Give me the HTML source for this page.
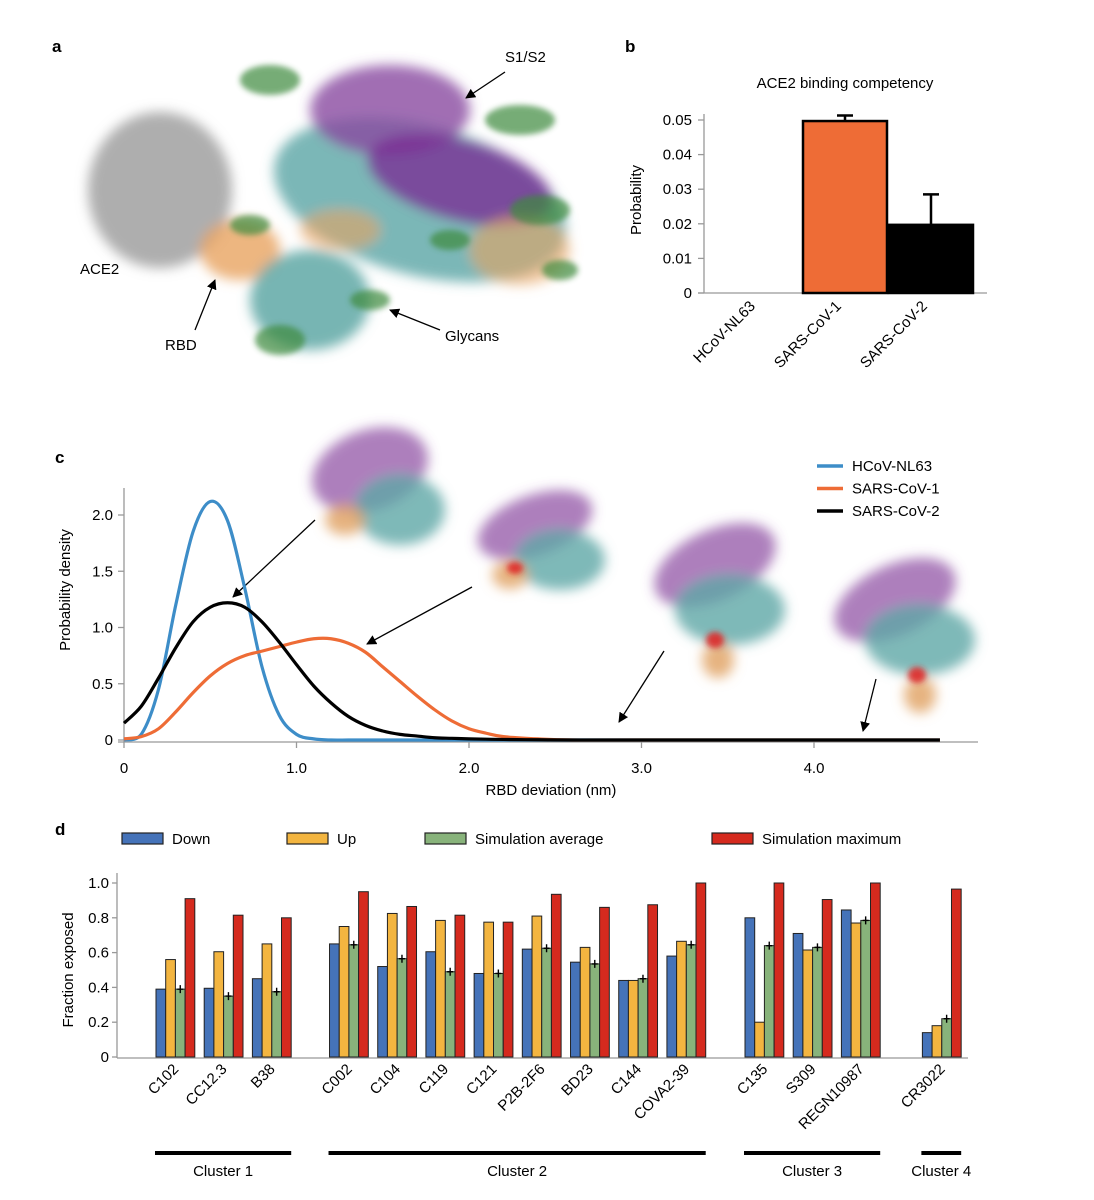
<!DOCTYPE html>
<html><head><meta charset="utf-8"><style>
body{margin:0;background:#fff;}
svg{display:block;font-family:"Liberation Sans",sans-serif;}
</style></head><body>
<svg id="fig" width="1094" height="1200" viewBox="0 0 1094 1200">
<defs>
<filter id="blur" x="-20%" y="-20%" width="140%" height="140%"><feGaussianBlur stdDeviation="6"/></filter>
<filter id="blur2" x="-20%" y="-20%" width="140%" height="140%"><feGaussianBlur stdDeviation="3"/></filter>
<marker id="ah" markerWidth="10" markerHeight="10" refX="9" refY="5" orient="auto" markerUnits="userSpaceOnUse"><path d="M0,0 L10,5 L0,10 z" fill="#000"/></marker>
</defs>

<!-- Panel a -->
<g>
<text x="52" y="52" font-size="17" font-weight="bold">a</text>
<g filter="url(#blur)">
<ellipse cx="160" cy="190" rx="72" ry="78" fill="#9a9a9a" opacity="0.8"/>
<ellipse cx="240" cy="250" rx="40" ry="30" fill="#e8a460" opacity="0.8"/>
<ellipse cx="310" cy="300" rx="60" ry="50" fill="#5fa8a6" opacity="0.85"/>
<ellipse cx="420" cy="200" rx="150" ry="75" fill="#4f9f9f" opacity="0.75" transform="rotate(15 420 200)"/>
<ellipse cx="390" cy="110" rx="80" ry="45" fill="#8a4aa0" opacity="0.8"/>
<ellipse cx="460" cy="180" rx="95" ry="40" fill="#7a2f95" opacity="0.8" transform="rotate(15 460 180)"/>
<ellipse cx="520" cy="250" rx="50" ry="35" fill="#e8a460" opacity="0.6"/>
<ellipse cx="340" cy="230" rx="40" ry="20" fill="#e8a460" opacity="0.6"/>
</g>
<g filter="url(#blur2)" fill="#3d8a3d" opacity="0.7">
<ellipse cx="270" cy="80" rx="30" ry="15"/><ellipse cx="520" cy="120" rx="35" ry="15"/>
<ellipse cx="540" cy="210" rx="30" ry="15"/><ellipse cx="280" cy="340" rx="25" ry="15"/>
<ellipse cx="370" cy="300" rx="20" ry="10"/><ellipse cx="250" cy="225" rx="20" ry="10"/>
<ellipse cx="450" cy="240" rx="20" ry="10"/><ellipse cx="560" cy="270" rx="18" ry="10"/>
</g>
<text x="505" y="62" font-size="15">S1/S2</text>
<line x1="505" y1="72" x2="466" y2="98" stroke="#000" stroke-width="1.3" marker-end="url(#ah)"/>
<text x="80" y="274" font-size="15">ACE2</text>
<text x="165" y="350" font-size="15">RBD</text>
<line x1="195" y1="330" x2="215" y2="280" stroke="#000" stroke-width="1.3" marker-end="url(#ah)"/>
<text x="445" y="341" font-size="15">Glycans</text>
<line x1="440" y1="330" x2="390" y2="310" stroke="#000" stroke-width="1.3" marker-end="url(#ah)"/>
</g>

<!-- Panel b -->
<g id="pb">
<text x="625" y="52" font-size="17" font-weight="bold">b</text>
<text x="845" y="88" font-size="15" text-anchor="middle">ACE2 binding competency</text>
<text transform="translate(641 200) rotate(-90)" font-size="15" text-anchor="middle">Probability</text>
</g>

<!-- Panel c -->
<g id="pc">
<text x="55" y="463" font-size="17" font-weight="bold">c</text>
<g>
<g filter="url(#blur)">
<ellipse cx="370" cy="470" rx="60" ry="40" fill="#8a4aa0" opacity="0.7" transform="rotate(-20 370 470)"/>
<ellipse cx="400" cy="510" rx="45" ry="35" fill="#5fa8a6" opacity="0.8"/>
<ellipse cx="345" cy="520" rx="20" ry="15" fill="#e0a060" opacity="0.8"/>
<ellipse cx="535" cy="525" rx="60" ry="30" fill="#8a4aa0" opacity="0.7" transform="rotate(-20 535 525)"/>
<ellipse cx="560" cy="560" rx="45" ry="30" fill="#5fa8a6" opacity="0.8"/>
<ellipse cx="510" cy="575" rx="18" ry="14" fill="#e0a060" opacity="0.8"/>
<ellipse cx="715" cy="565" rx="65" ry="35" fill="#8a4aa0" opacity="0.7" transform="rotate(-25 715 565)"/>
<ellipse cx="730" cy="610" rx="55" ry="35" fill="#5fa8a6" opacity="0.8"/>
<ellipse cx="718" cy="660" rx="16" ry="18" fill="#e0a060" opacity="0.8"/>
<ellipse cx="895" cy="600" rx="65" ry="35" fill="#8a4aa0" opacity="0.7" transform="rotate(-25 895 600)"/>
<ellipse cx="920" cy="640" rx="55" ry="35" fill="#5fa8a6" opacity="0.8"/>
<ellipse cx="920" cy="695" rx="16" ry="18" fill="#e0a060" opacity="0.8"/>
</g>
<g filter="url(#blur2)" fill="#e02020" opacity="0.85">
<ellipse cx="515" cy="568" rx="8" ry="6"/><ellipse cx="715" cy="640" rx="9" ry="8"/><ellipse cx="917" cy="675" rx="9" ry="8"/>
</g>
</g>
<line x1="315" y1="520" x2="233" y2="597" stroke="#000" stroke-width="1.3" marker-end="url(#ah)"/>
<line x1="472" y1="587" x2="367" y2="644" stroke="#000" stroke-width="1.3" marker-end="url(#ah)"/>
<line x1="664" y1="651" x2="619" y2="722" stroke="#000" stroke-width="1.3" marker-end="url(#ah)"/>
<line x1="876" y1="679" x2="863" y2="731" stroke="#000" stroke-width="1.3" marker-end="url(#ah)"/>
<text transform="translate(70 590) rotate(-90)" font-size="15" text-anchor="middle">Probability density</text>
<text x="551" y="795" font-size="15" text-anchor="middle">RBD deviation (nm)</text>
</g>

<!-- Panel d -->
<g id="pd">
<text x="55" y="835" font-size="17" font-weight="bold">d</text>
<text transform="translate(73 970) rotate(-90)" font-size="15" text-anchor="middle">Fraction exposed</text>
</g>
</svg>
<script>
const NS="http://www.w3.org/2000/svg";
function mk(parent,tag,attrs,text){const e=document.createElementNS(NS,tag);for(const k in attrs)e.setAttribute(k,attrs[k]);if(text!==undefined)e.textContent=text;parent.appendChild(e);return e;}

/* ---------- Panel b data ---------- */
const bCategories=["HCoV-NL63","SARS-CoV-1","SARS-CoV-2"];
const bValues=[0,0.0497,0.0197];
const bErrors=[0,0.0016,0.0088];
const bTicks=[0,0.01,0.02,0.03,0.04,0.05];
const bTickLabels=["0","0.01","0.02","0.03","0.04","0.05"];

/* ---------- Panel c data ---------- */
const cX=[0,0.1,0.2,0.3,0.4,0.5,0.6,0.7,0.8,0.9,1.0,1.1,1.2,1.3,1.4,1.5,1.6,1.7,1.8,1.9,2.0,2.1,2.2,2.4,2.6,3.0,4.0,4.73];
const cNL63=[0,0.05,0.45,1.2,1.85,2.12,1.95,1.35,0.65,0.22,0.05,0.01,0,0,0,0,0,0,0,0,0,0,0,0,0,0,0,0];
const cCoV1=[0.01,0.03,0.1,0.25,0.42,0.57,0.68,0.75,0.79,0.83,0.87,0.9,0.9,0.86,0.78,0.65,0.52,0.39,0.27,0.17,0.1,0.06,0.03,0.01,0,0,0,0];
const cCoV2=[0.15,0.3,0.55,0.82,1.05,1.18,1.22,1.18,1.05,0.87,0.67,0.48,0.33,0.21,0.13,0.08,0.05,0.035,0.02,0.015,0.01,0.007,0.005,0.002,0,0,0,0];
const cSeriesNames=["HCoV-NL63","SARS-CoV-1","SARS-CoV-2"];
const cXTicks=[0,1,2,3,4];
const cXTickLabels=["0","1.0","2.0","3.0","4.0"];
const cYTicks=[0,0.5,1,1.5,2];
const cYTickLabels=["0","0.5","1.0","1.5","2.0"];

/* ---------- Panel d data ---------- */
const dAntibodies=["C102","CC12.3","B38","C002","C104","C119","C121","P2B-2F6","BD23","C144","COVA2-39","C135","S309","REGN10987","CR3022"];
const dDown=[0.39,0.395,0.45,0.65,0.52,0.605,0.48,0.62,0.545,0.44,0.58,0.80,0.71,0.845,0.14];
const dUp=[0.56,0.605,0.65,0.75,0.825,0.785,0.775,0.81,0.63,0.44,0.665,0.20,0.615,0.77,0.18];
const dAvg=[0.39,0.35,0.375,0.645,0.565,0.49,0.48,0.625,0.535,0.45,0.645,0.64,0.63,0.785,0.22];
const dMax=[0.91,0.815,0.80,0.95,0.865,0.815,0.775,0.935,0.86,0.875,1.0,1.0,0.905,1.0,0.965];
const dClusters=["Cluster 1","Cluster 2","Cluster 3","Cluster 4"];
const dClusterOf=[0,0,0,1,1,1,1,1,1,1,1,2,2,2,3];
const dYTicks=[0,0.2,0.4,0.6,0.8,1.0];
const dYTickLabels=["0","0.2","0.4","0.6","0.8","1.0"];

/* ===== Panel b ===== */
(function(){
const g=document.getElementById('pb');
const y=v=>293-v/0.05*173;
const x=i=>759+i*86;
mk(g,'line',{x1:704,y1:120-6,x2:704,y2:293,stroke:'#999','stroke-width':1.3});
mk(g,'line',{x1:698,y1:293,x2:987,y2:293,stroke:'#999','stroke-width':1.3});
bTicks.forEach((t,i)=>{
 mk(g,'line',{x1:698,y1:y(t),x2:704,y2:y(t),stroke:'#999','stroke-width':1.3});
 const tl=mk(g,'text',{x:692,y:y(t)+5,'font-size':15,'text-anchor':'end'},bTickLabels[i]);
 
 
});
const colors=['#999','#ee6c36','#000'];
bValues.forEach((v,i)=>{
 if(v>0){
  if(bErrors[i]>0){
   const eb=mk(g,'path',{d:`M${x(i)},${y(v)} V${y(v+bErrors[i])} M${x(i)-8},${y(v+bErrors[i])} H${x(i)+8}`,stroke:'#000','stroke-width':2.5,fill:'none'});
   
   
  }
  const r=mk(g,'rect',{x:x(i)-42,y:y(v),width:84,height:293-y(v),fill:colors[i],stroke:'#000','stroke-width':2.5});
  
  
 }
 const t=mk(g,'text',{transform:`translate(${x(i)-3} 307) rotate(-45)`,'font-size':15,'text-anchor':'end'},bCategories[i]);
 
 
});
})();

/* ===== Panel c ===== */
(function(){
const g=document.getElementById('pc');
const x=v=>124+v*172.5;
const y=v=>740-v*112.5;
mk(g,'line',{x1:124,y1:488,x2:124,y2:742,stroke:'#999','stroke-width':1.3});
mk(g,'line',{x1:118,y1:742,x2:978,y2:742,stroke:'#999','stroke-width':1.3});
cYTicks.forEach((t,i)=>{
 mk(g,'line',{x1:118,y1:y(t),x2:124,y2:y(t),stroke:'#999','stroke-width':1.3});
 const tl=mk(g,'text',{x:113,y:y(t)+5,'font-size':15,'text-anchor':'end'},cYTickLabels[i]);
 
 
});
cXTicks.forEach((t,i)=>{
 mk(g,'line',{x1:x(t),y1:742,x2:x(t),y2:748,stroke:'#999','stroke-width':1.3});
 const tl=mk(g,'text',{x:x(t),y:773,'font-size':15,'text-anchor':'middle'},cXTickLabels[i]);
 
 
});
function smooth(vals){
 const p=cX.map((xv,i)=>[x(xv),y(vals[i])]);
 let d=`M${p[0][0]},${p[0][1]}`;
 for(let i=0;i<p.length-1;i++){
  const p0=p[Math.max(0,i-1)],p1=p[i],p2=p[i+1],p3=p[Math.min(p.length-1,i+2)];
  let c1y=p1[1]+(p2[1]-p0[1])/6, c2y=p2[1]-(p3[1]-p1[1])/6;
  c1y=Math.min(c1y,742);c2y=Math.min(c2y,742);
  d+=` C${p1[0]+(p2[0]-p0[0])/6},${c1y} ${p2[0]-(p3[0]-p1[0])/6},${c2y} ${p2[0]},${p2[1]}`;
 }
 return d;
}
const series=[cNL63,cCoV1,cCoV2];
const colors=['#3d8dc8','#ee6c36','#000'];
const names=['line-hcov-nl63','line-sars-cov-1','line-sars-cov-2'];
series.forEach((s,i)=>{
 const p=mk(g,'path',{d:smooth(s),fill:'none',stroke:colors[i],'stroke-width':3.2,'stroke-linejoin':'round'});
 
 
});
cSeriesNames.forEach((n,i)=>{
 const lg=mk(g,'g',{});
 
 
 mk(lg,'line',{x1:817,y1:466+i*22.5,x2:843,y2:466+i*22.5,stroke:colors[i],'stroke-width':3.5});
 mk(lg,'text',{x:852,y:471+i*22.5,'font-size':15},n);
});
})();

/* ===== Panel d ===== */
(function(){
const g=document.getElementById('pd');
const y=v=>1057-v*174;
const slots=[0,1,2,3.6,4.6,5.6,6.6,7.6,8.6,9.6,10.6,12.22,13.22,14.22,15.9];
const gx=i=>156+slots[i]*48.2;
const bw=9.7;
mk(g,'line',{x1:117,y1:873,x2:117,y2:1058,stroke:'#999','stroke-width':1.3});
mk(g,'line',{x1:117,y1:1058,x2:968,y2:1058,stroke:'#999','stroke-width':1.3});
dYTicks.forEach((t,i)=>{
 mk(g,'line',{x1:112,y1:y(t),x2:117,y2:y(t),stroke:'#999','stroke-width':1.3});
 const tl=mk(g,'text',{x:109,y:y(t)+5,'font-size':15,'text-anchor':'end'},dYTickLabels[i]);
 
 
});
const colors=['#4573b9','#f3b540','#88b37b','#d52a1e'];
const series=[dDown,dUp,dAvg,dMax];
const snames=['down','up','sim-avg','sim-max'];
dAntibodies.forEach((ab,i)=>{
 series.forEach((s,k)=>{
  const r=mk(g,'rect',{x:gx(i)+k*bw,y:y(s[i]),width:bw,height:1057-y(s[i]),fill:colors[k],stroke:'#222','stroke-width':1});
  
  
 });
 const ex=gx(i)+2.5*bw;
 const eb=mk(g,'path',{d:`M${ex},${y(dAvg[i])-4} V${y(dAvg[i])+4} M${ex-3},${y(dAvg[i])} H${ex+3}`,stroke:'#000','stroke-width':1.4});
 
 
 const t=mk(g,'text',{transform:`translate(${gx(i)+2*bw+4} 1070) rotate(-45)`,'font-size':15,'text-anchor':'end'},ab);
 
 
});
dClusters.forEach((c,ci)=>{
 const idx=dClusterOf.map((v,i)=>v===ci?i:-1).filter(v=>v>=0);
 const x1=gx(idx[0])-1, x2=gx(idx[idx.length-1])+4*bw;
 const cl=mk(g,'g',{});
 
 
 mk(cl,'line',{x1:x1,y1:1153,x2:x2,y2:1153,stroke:'#000','stroke-width':4});
 mk(cl,'text',{x:(x1+x2)/2,y:1176,'font-size':15,'text-anchor':'middle'},c);
});
const legend=[['Down',122],['Up',287],['Simulation average',425],['Simulation maximum',712]];
legend.forEach((l,i)=>{
 const lg=mk(g,'g',{});
 
 
 mk(lg,'rect',{x:l[1],y:833,width:41,height:11,fill:colors[i],stroke:'#222','stroke-width':1.2});
 mk(lg,'text',{x:l[1]+50,y:844,'font-size':15},l[0]);
});
})();
</script>
</body></html>
